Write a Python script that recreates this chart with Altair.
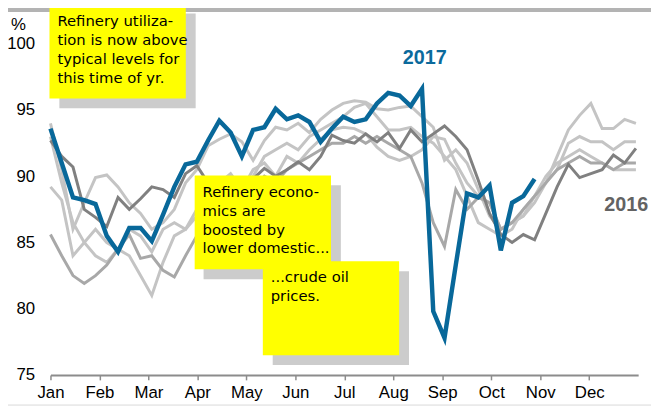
import altair as alt
import pandas as pd

months = ["Jan", "Feb", "Mar", "Apr", "May", "Jun", "Jul", "Aug", "Sep", "Oct", "Nov", "Dec"]
weeks_per_month = 4.35
y_ticks = [75, 80, 85, 90, 95, 100]

# Weekly refinery utilization (%)
y2017 = [93.6, 91.0, 88.4, 88.2, 87.9, 85.5, 84.3, 86.1, 86.1, 85.1, 87.1, 89.2, 90.9, 91.1,
         92.7, 94.2, 93.3, 91.5, 93.5, 93.7, 95.1, 94.3, 94.6, 94.1, 92.6, 93.6, 94.5, 94.1,
         94.3, 95.5, 96.3, 96.1, 95.3, 96.6, 79.8, 77.8, 83.3, 88.7, 88.4, 89.3, 84.4, 88.0,
         88.5, 89.8]
y2016 = [92.7, 91.5, 90.7, 87.5, 86.9, 86.2, 88.4, 87.5, 88.3, 89.2, 89.0, 88.4, 90.2, 90.8,
         89.5, 88.5, 88.0, 89.0, 89.8, 90.6, 90.0, 90.5, 91.1, 90.5, 91.5, 93.1, 92.7, 92.5,
         93.2, 92.6, 93.3, 92.1, 93.5, 92.6, 93.2, 93.8, 93.0, 92.0, 89.7, 87.2, 85.6, 85.0,
         85.6, 85.2, 87.2, 89.2, 90.9, 89.9, 90.2, 90.5, 91.6, 91.0, 92.1]
ya = [94.0, 90.5, 86.0, 88.0, 89.9, 90.1, 89.2, 88.0, 87.2, 86.0, 86.5, 87.5, 89.5, 90.5,
      92.3, 92.8, 93.2, 92.6, 91.2, 92.7, 93.7, 93.5, 94.0, 93.3, 94.3, 95.0, 95.5, 95.7,
      95.6, 95.1, 95.0, 95.2, 95.3, 94.5, 93.7, 91.2, 92.0, 91.0, 89.0, 87.0, 86.0, 86.5,
      87.0, 88.0, 89.5, 91.5, 93.5, 94.6, 95.5, 93.6, 93.6, 94.3, 94.0]
yb = [89.2, 88.2, 84.0, 85.0, 86.0, 85.0, 84.5, 86.0, 85.5, 84.3, 86.0, 86.5, 86.0, 87.5,
      88.5, 88.0, 90.0, 89.0, 90.5, 91.0, 90.0, 91.5, 91.0, 92.0, 92.8, 93.5, 93.7, 93.6,
      93.2, 92.2, 91.5, 91.2, 91.5, 92.0, 93.0, 92.8, 91.0, 89.5, 88.5, 88.0, 86.0, 86.5,
      87.0, 88.5, 89.5, 90.5, 92.5, 93.0, 92.6, 92.6, 92.0, 92.6, 92.6]
yc = [93.0, 89.5, 86.5, 85.0, 84.0, 83.5, 84.5, 84.0, 82.5, 81.0, 83.5, 85.5, 86.0, 87.0,
      88.0, 89.5, 90.2, 89.0, 90.0, 91.5, 92.0, 92.5, 92.0, 93.0, 93.5, 94.0, 94.5, 95.2,
      95.5, 94.5, 93.5, 93.5, 93.7, 93.0, 92.5, 91.5, 90.5, 88.5, 86.5, 86.0, 85.5, 86.0,
      87.5, 88.5, 90.0, 91.0, 91.5, 92.0, 91.5, 91.0, 90.5, 90.5, 90.5]
yd = [85.6, 84.0, 82.5, 81.9, 82.5, 83.3, 84.5, 85.6, 83.8, 84.0, 82.9, 82.4, 84.0, 85.5,
      86.5, 88.0, 88.5, 88.0, 89.0, 90.0, 89.5, 90.5, 91.0, 91.5, 92.0, 92.5, 92.5, 93.0,
      92.5, 93.0, 92.5, 92.0, 91.5, 89.5, 86.5, 84.7, 89.0, 87.5, 88.4, 88.0, 86.0, 86.5,
      87.5, 88.5, 89.5, 90.5, 91.0, 91.5, 91.0, 91.0, 90.5, 91.0, 91.0]

light_series = {"a": ya, "b": yb, "c": yc}
mid_series = {"d": yd}


def frame(series):
    rows = []
    for name, vals in series.items():
        for i, v in enumerate(vals):
            rows.append({"series": name, "week": i, "value": v})
    return pd.DataFrame(rows)


x_scale = alt.Scale(domain=[0, 12 * weeks_per_month], nice=False, zero=False)
y_scale = alt.Scale(domain=[75, 102.37], nice=False, zero=False)

month_expr = "[" + ",".join("'%s'" % m for m in months) + "][round(datum.value / %s)]" % weeks_per_month

x_axis = alt.Axis(values=[i * weeks_per_month for i in range(12)], labelExpr=month_expr,
                  title=None, grid=False, domainColor="#8c8c8c", domainWidth=2,
                  tickColor="#8c8c8c", tickSize=5, tickWidth=1.5, labelFontSize=17,
                  labelColor="#000000", labelFont="Liberation Sans", labelPadding=5,
                  labelAngle=0, labelFlush=False, labelOverlap=False)
y_axis = alt.Axis(values=y_ticks, title="%", titleAngle=0, titleX=-33, titleY=12,
                  titleAlign="center", titleBaseline="middle", titleFontWeight="normal",
                  titleFontSize=17, titleFont="Liberation Sans", titleColor="#000000",
                  grid=False, domain=False, ticks=False, labelFontSize=17,
                  labelColor="#000000", labelFont="Liberation Sans", labelPadding=16,
                  labelFlush=False)


def lines(df, color, width):
    return alt.Chart(df).mark_line(color=color, strokeWidth=width, strokeJoin="miter").encode(
        x=alt.X("week:Q", scale=x_scale, axis=x_axis),
        y=alt.Y("value:Q", scale=y_scale, axis=y_axis),
        detail="series:N",
    )


one = pd.DataFrame({"k": [0]})


def box(x1, y1, x2, y2, color):
    return alt.Chart(one).mark_rect(color=color).encode(
        x=alt.value(x1), x2=alt.value(x2), y=alt.value(y1), y2=alt.value(y2))


def note(x, y, lines_, size=15):
    return alt.Chart(one).mark_text(text=lines_, align="left", baseline="alphabetic",
                                    lineHeight=19, font="DejaVu Sans", fontSize=size,
                                    color="#000000").encode(x=alt.value(x), y=alt.value(y))


band = alt.Chart(one).mark_rect(color="#b3b3b3").encode(
    x=alt.value(-51), x2=alt.value(610), y=alt.value(-10), y2=alt.value(-0.5))
bottom_rule = alt.Chart(one).mark_rule(color="#d9d9d9", strokeWidth=1).encode(
    x=alt.value(-51), x2=alt.value(610), y=alt.value(397.5))

label2017 = alt.Chart(one).mark_text(text="2017", font="Liberation Sans", fontSize=20,
                                     fontWeight="bold", color="#0b6a9c").encode(
    x=alt.value(379), y=alt.value(46))
label2016 = alt.Chart(one).mark_text(text="2016", font="Liberation Sans", fontSize=20,
                                     fontWeight="bold", color="#636363").encode(
    x=alt.value(583), y=alt.value(195))

chart = alt.layer(
    band,
    bottom_rule,
    lines(frame(light_series), "#c4c4c4", 3),
    lines(frame(mid_series), "#a8a8a8", 3),
    lines(frame({"2016": y2016}), "#808080", 3),
    lines(frame({"2017": y2017}), "#08689a", 4.5),
    box(9, 1, 147, 97, "#cccccc"),
    box(-1, -9, 137, 87, "#ffff00"),
    note(7, 14, ["Refinery utiliza-", "tion is now above", "typical levels for", "this time of yr."]),
    box(155, 175, 294, 270, "#cccccc"),
    box(146, 165, 284, 260, "#ffff00"),
    note(154, 187, ["Refinery econo-", "mics are", "boosted by", "lower domestic..."]),
    box(225, 262, 363, 357, "#cccccc"),
    box(215, 252, 353, 347, "#ffff00"),
    note(223, 273, ["...crude oil", "prices."]),
    label2017,
    label2016,
).properties(
    width=595, height=367,
    autosize=alt.AutoSizeParams(type="none"),
    padding={"left": 43, "top": 2, "right": 13, "bottom": 33},
).configure_view(stroke=None)

chart.save("out.html", embed_options={"renderer": "svg", "actions": False})
